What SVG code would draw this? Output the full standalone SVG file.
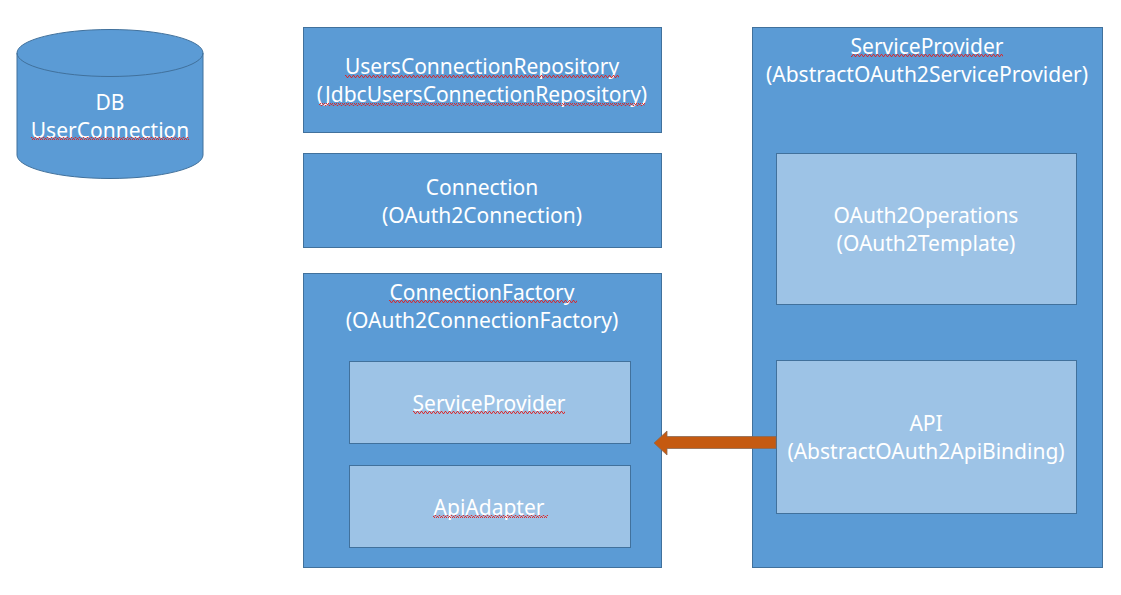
<svg xmlns="http://www.w3.org/2000/svg" width="1121" height="595" viewBox="0 0 1121 595">
<style>
.outer{fill:#5B9BD5;stroke:#41719C;stroke-width:1}
.inner{fill:#9DC3E6;stroke:#41719C;stroke-width:1}
.t{font-family:"Noto Sans","Liberation Sans",sans-serif;font-size:21px;fill:#FFFFFF;text-anchor:middle;dominant-baseline:central}
</style>
<defs>
<pattern id="sq" x="0" y="0" width="4" height="3" patternUnits="userSpaceOnUse">
<path d="M0,2.5 L1,0.5 L2,0.5 L3,2.5 L4,2.5" fill="none" stroke="#E02020" stroke-width="0.9"/>
</pattern>
</defs>
<rect width="1121" height="595" fill="#FFFFFF"/>
<g id="db">
<path class="outer" d="M17,53 L17,155 A93,23.5 0 0 0 203,155 L203,53 A93,23.5 0 0 0 17,53 Z"/>
<path d="M17,53 A93,23.5 0 0 0 203,53" fill="none" stroke="#41719C"/>
<text class="t" x="110" y="102">DB</text>
<text class="t" x="110" y="130">UserConnection</text>
<rect x="31" y="137" width="158" height="3" fill="url(#sq)"/>
</g>
<g id="repo">
<rect class="outer" x="303.5" y="27.5" width="358" height="105"/>
<text class="t" x="482" y="66">UsersConnectionRepository</text>
<text class="t" x="482" y="94">(JdbcUsersConnectionRepository)</text>
<rect x="345" y="75" width="274" height="3" fill="url(#sq)"/>
<rect x="319" y="103" width="326" height="3" fill="url(#sq)"/>
</g>
<g id="connection">
<rect class="outer" x="303.5" y="153.5" width="358" height="94"/>
<text class="t" x="482" y="187">Connection</text>
<text class="t" x="482" y="215">(OAuth2Connection)</text>
</g>
<g id="factory">
<rect class="outer" x="303.5" y="273.5" width="358" height="294"/>
<text class="t" x="482" y="292">ConnectionFactory</text>
<text class="t" x="482" y="320">(OAuth2ConnectionFactory)</text>
<rect x="389" y="300" width="188" height="3" fill="url(#sq)"/>
</g>
<g id="factory-sp">
<rect class="inner" x="349.5" y="361.5" width="281" height="82"/>
<text class="t" x="489" y="403">ServiceProvider</text>
<rect x="413" y="411" width="152" height="3" fill="url(#sq)"/>
</g>
<g id="factory-api">
<rect class="inner" x="349.5" y="465.5" width="281" height="82"/>
<text class="t" x="489" y="507">ApiAdapter</text>
<rect x="433" y="515" width="115" height="3" fill="url(#sq)"/>
</g>
<g id="provider">
<rect class="outer" x="752.5" y="27.5" width="350" height="540"/>
<text class="t" x="927" y="46">ServiceProvider</text>
<text class="t" x="927" y="74">(AbstractOAuth2ServiceProvider)</text>
<rect x="851" y="54" width="152" height="3" fill="url(#sq)"/>
</g>
<g id="operations">
<rect class="inner" x="776.5" y="153.5" width="300" height="151"/>
<text class="t" x="926" y="215">OAuth2Operations</text>
<text class="t" x="926" y="243">(OAuth2Template)</text>
</g>
<g id="api">
<rect class="inner" x="776.5" y="360.5" width="300" height="153"/>
<text class="t" x="926" y="423">API</text>
<text class="t" x="926" y="451">(AbstractOAuth2ApiBinding)</text>
</g>
<g id="connectors">
<path d="M776,436.5 L667,436.5 L667,431 L654,443 L667,455 L667,448.5 L776,448.5 Z" fill="#C55A11" stroke="#8A6A55" stroke-width="0.8"/>
</g>
</svg>
